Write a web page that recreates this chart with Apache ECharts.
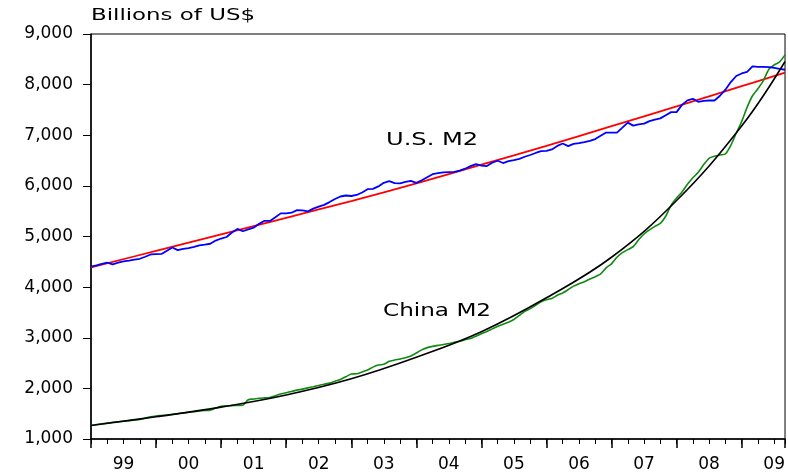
<!DOCTYPE html>
<html>
<head>
<meta charset="utf-8">
<script src="https://cdn.jsdelivr.net/npm/echarts@6/dist/echarts.min.js"></script>
<style>
html,body{margin:0;padding:0;background:#fff;}
#chart{width:788px;height:473px;}
</style>
</head>
<body>
<div id="chart"></div>
<script>
// Monthly data, Jan 1999 (index 0) .. Sep 2009 (index 128)
var yearLabels = ['99','00','01','02','03','04','05','06','07','08','09'];
var usM2 = [
  4406,4430,4460,4484,4451,4485,4510,4525,4543,4560,4600,4645,
  4650,4655,4720,4784,4732,4755,4770,4795,4824,4840,4857,4920,
  4960,4990,5080,5150,5104,5140,5175,5250,5310,5308,5380,5457,
  5457,5470,5520,5515,5497,5550,5590,5625,5680,5740,5790,5810,
  5800,5820,5870,5935,5941,5990,6060,6092,6055,6050,6080,6098,
  6060,6110,6170,6230,6250,6265,6272,6275,6300,6339,6390,6431,
  6400,6392,6457,6496,6451,6490,6510,6535,6575,6610,6650,6686,
  6690,6720,6790,6837,6785,6830,6845,6865,6890,6925,6990,7053,
  7053,7053,7150,7249,7190,7216,7229,7280,7310,7333,7395,7457,
  7457,7600,7690,7720,7661,7680,7686,7686,7780,7900,8050,8170,
  8220,8250,8360,8350,8350,8345,8333,8310,8294
];
var chinaM2 = [
  1268,1285,1300,1315,1330,1342,1352,1362,1375,1386,1410,1440,
  1455,1465,1475,1484,1500,1515,1527,1540,1555,1563,1569,1610,
  1647,1655,1660,1664,1667,1775,1790,1804,1812,1820,1855,1888,
  1915,1940,1965,1985,2010,2033,2058,2082,2104,2140,2176,2230,
  2282,2288,2325,2362,2420,2460,2476,2535,2560,2580,2605,2640,
  2700,2760,2805,2830,2850,2865,2885,2910,2930,2960,2985,3030,
  3080,3125,3175,3225,3265,3305,3360,3440,3520,3575,3640,3710,
  3750,3775,3840,3885,3950,4020,4065,4108,4160,4205,4260,4380,
  4460,4590,4680,4740,4800,4935,5050,5130,5200,5260,5400,5620,
  5760,5880,6030,6160,6268,6420,6545,6585,6610,6630,6800,7040,
  7270,7550,7780,7920,8080,8300,8390,8450,8588
];
// Trend lines read at each January (plus final month)
var trendMonths = [0,12,24,36,48,60,72,84,96,108,120,128];
var usTrend    = [4392,4715,5040,5370,5700,6050,6420,6790,7180,7570,7970,8235];
var chinaTrend = [1268,1440,1630,1870,2190,2615,3120,3790,4590,5710,7183,8457];

function pairs(xs, ys){ return ys.map(function(v,i){ return [xs ? xs[i] : i, v]; }); }

var FONT = 'DejaVu Sans';
var lastMonth = usM2.length - 1;
var chart = echarts.init(document.getElementById('chart'), null, {renderer:'canvas'});
var baseX = {type:'value', min:0, max:lastMonth, position:'bottom', gridIndex:0};
chart.setOption({
  animation:false,
  backgroundColor:'#fff',
  grid:{left:91, right:1, top:34, bottom:31, show:true, borderColor:'#000', borderWidth:1, backgroundColor:'transparent'},
  xAxis:[
    Object.assign({}, baseX, {
      interval:12,
      axisLine:{show:true, onZero:false, lineStyle:{color:'#000', width:1.5}},
      axisTick:{show:true, inside:false, length:9, lineStyle:{color:'#000', width:1.5}},
      axisLabel:{show:false},
      splitLine:{show:false}
    }),
    Object.assign({}, baseX, {
      interval:3,
      axisLine:{show:false},
      axisTick:{show:true, inside:false, length:5, lineStyle:{color:'#000', width:1}},
      axisLabel:{show:false},
      splitLine:{show:false}
    }),
    Object.assign({}, baseX, {
      interval:6,
      axisLine:{show:false},
      axisTick:{show:false},
      splitLine:{show:false},
      axisLabel:{
        show:true, margin:17, color:'#000', fontFamily:FONT, fontSize:17,
        showMinLabel:true, showMaxLabel:false,
        formatter:function(v){
          if (v % 12 !== 6) return '';
          return yearLabels[Math.floor(v/12)] || '';
        }
      }
    })
  ],
  yAxis:{
    type:'value', min:1000, max:9000, interval:1000,
    axisLine:{show:true, lineStyle:{color:'#000', width:1.5}},
    axisTick:{show:true, inside:false, length:8, lineStyle:{color:'#000', width:1}},
    axisLabel:{margin:18, color:'#000', fontFamily:FONT, fontSize:17,
      formatter:function(v){ return v.toLocaleString('en-US'); }},
    splitLine:{show:false}
  },
  graphic:[
    {type:'text', left:91, top:8, style:{text:'Billions of US$', fontFamily:FONT, fontSize:16, fill:'#000'}, scaleX:1.43},
    {type:'text', x:386, y:141, style:{text:'U.S. M2', fontFamily:FONT, fontSize:17, fill:'#000', textAlign:'left', textVerticalAlign:'middle'}, scaleX:1.42},
    {type:'text', x:383, y:312, style:{text:'China M2', fontFamily:FONT, fontSize:17, fill:'#000', textAlign:'left', textVerticalAlign:'middle'}, scaleX:1.36}
  ],
  series:[
    {name:'US trend', type:'line', xAxisIndex:0, data:pairs(trendMonths, usTrend), smooth:0.4, showSymbol:false, lineStyle:{color:'#ff0000', width:1.8}, z:2},
    {name:'U.S. M2', type:'line', xAxisIndex:0, data:pairs(null, usM2), showSymbol:false, lineStyle:{color:'#0000ff', width:1.8}, z:3},
    {name:'China M2', type:'line', xAxisIndex:0, data:pairs(null, chinaM2), showSymbol:false, smooth:0.2, lineStyle:{color:'#108a10', width:1.6}, z:2},
    {name:'China trend', type:'line', xAxisIndex:0, data:pairs(trendMonths, chinaTrend), smooth:0.4, showSymbol:false, lineStyle:{color:'#000', width:1.6}, z:3}
  ]
});
</script>
</body>
</html>
